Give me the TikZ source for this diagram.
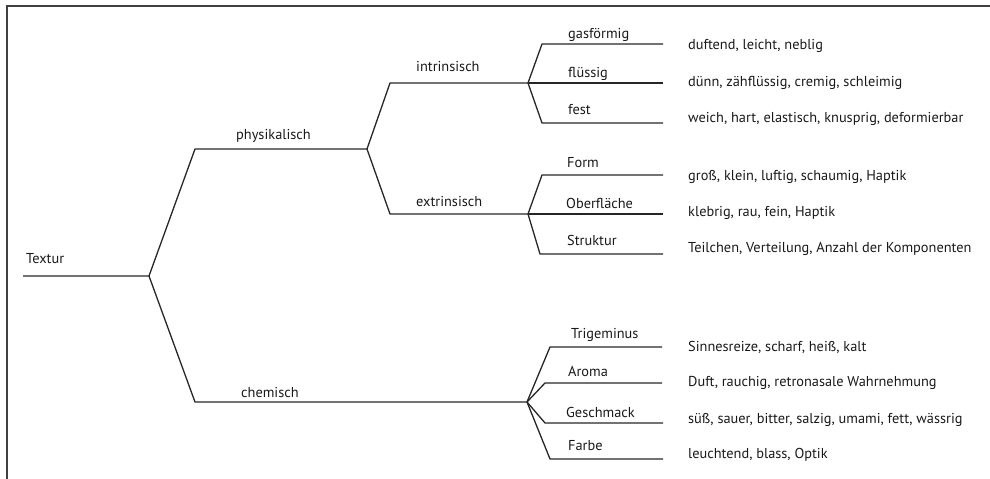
\documentclass[tikz,border=0pt]{standalone}
\usepackage{fontspec}
\setmainfont{PT Sans}
\begin{document}
\begin{tikzpicture}[x=1bp, y=-1bp]
  \tikzstyle{line}=[draw, line width=1.3bp, black!85, line join=round]
  \tikzstyle{frame}=[draw, line width=1.5bp, black!75]
  \tikzstyle{lbl}=[anchor=base west, inner sep=0pt, font=\fontsize{14.4}{16}\selectfont, text=black!90]
  \tikzstyle{desc}=[lbl]

  \useasboundingbox (0,0) rectangle (990,479);
  \draw[frame] (7,479) -- (7,6) -- (990,6);

  \coordinate (t0)  at (23,  276);
  \coordinate (t)   at (149, 276);
  \coordinate (p0)  at (195, 149);
  \coordinate (p)   at (367, 149);
  \coordinate (c0)  at (195, 402);
  \coordinate (c)   at (527, 402);
  \coordinate (i0)  at (390, 83);
  \coordinate (i)   at (528, 83);
  \coordinate (e0)  at (390, 214);
  \coordinate (e)   at (528, 214);
  \coordinate (g0)  at (542, 44);
  \coordinate (g)   at (663, 44);
  \coordinate (f)   at (663, 83);
  \coordinate (s0)  at (542, 123);
  \coordinate (s)   at (663, 123);
  \coordinate (fo0) at (542, 175);
  \coordinate (fo)  at (663, 175);
  \coordinate (o)   at (663, 214);
  \coordinate (st0) at (540, 254);
  \coordinate (st)  at (663, 254);
  \coordinate (tr0) at (550, 347);
  \coordinate (tr)  at (662, 347);
  \coordinate (a0)  at (545, 383);
  \coordinate (a)   at (662, 383);
  \coordinate (ge0) at (545, 423);
  \coordinate (ge)  at (663, 423);
  \coordinate (fa0) at (550, 459);
  \coordinate (fa)  at (663, 459);

  \draw[line] (t0) -- (t) -- (p0) -- (p);
  \draw[line] (t) -- (c0) -- (c);
  \draw[line] (p) -- (i0) -- (i);
  \draw[line] (p) -- (e0) -- (e);
  \draw[line] (i) -- (g0) -- (g);
  \draw[line] (i) -- (f);
  \draw[line] (i) -- (s0) -- (s);
  \draw[line] (e) -- (fo0) -- (fo);
  \draw[line] (e) -- (o);
  \draw[line] (e) -- (st0) -- (st);
  \draw[line] (c) -- (tr0) -- (tr);
  \draw[line] (c) -- (a0) -- (a);
  \draw[line] (c) -- (ge0) -- (ge);
  \draw[line] (c) -- (fa0) -- (fa);

  \node[lbl] (textur)  at (26,  264) {Textur};
  \node[lbl] (phys)    at (236, 140) {physikalisch};
  \node[lbl] (chem)    at (241, 397) {chemisch};
  \node[lbl] (intr)    at (416, 72)  {intrinsisch};
  \node[lbl] (extr)    at (416, 207) {extrinsisch};
  \node[lbl] (gas)     at (568, 39)  {gasförmig};
  \node[lbl] (fluess)  at (568, 78)  {flüssig};
  \node[lbl] (fest)    at (568, 115) {fest};
  \node[lbl] (form)    at (567, 168) {Form};
  \node[lbl] (oberfl)  at (566, 209) {Oberfläche};
  \node[lbl] (strukt)  at (567, 246) {Struktur};
  \node[lbl] (trig)    at (571, 339) {Trigeminus};
  \node[lbl] (aroma)   at (568, 377) {Aroma};
  \node[lbl] (geschm)  at (566, 417) {Geschmack};
  \node[lbl] (farbe)   at (568, 450) {Farbe};

  \node[desc] (d1)  at (688, 50)  {duftend, leicht, neblig};
  \node[desc] (d2)  at (688, 87)  {dünn, zähflüssig, cremig, schleimig};
  \node[desc] (d3)  at (688, 123) {weich, hart, elastisch, knusprig, deformierbar};
  \node[desc] (d4)  at (688, 181) {groß, klein, luftig, schaumig, Haptik};
  \node[desc] (d5)  at (688, 217) {klebrig, rau, fein, Haptik};
  \node[desc] (d6)  at (688, 253) {Teilchen, Verteilung, Anzahl der Komponenten};
  \node[desc] (d7)  at (688, 352) {Sinnesreize, scharf, heiß, kalt};
  \node[desc] (d8)  at (688, 387) {Duft, rauchig, retronasale Wahrnehmung};
  \node[desc] (d9)  at (688, 423) {süß, sauer, bitter, salzig, umami, fett, wässrig};
  \node[desc] (d10) at (688, 458) {leuchtend, blass, Optik};
\end{tikzpicture}
\end{document}
